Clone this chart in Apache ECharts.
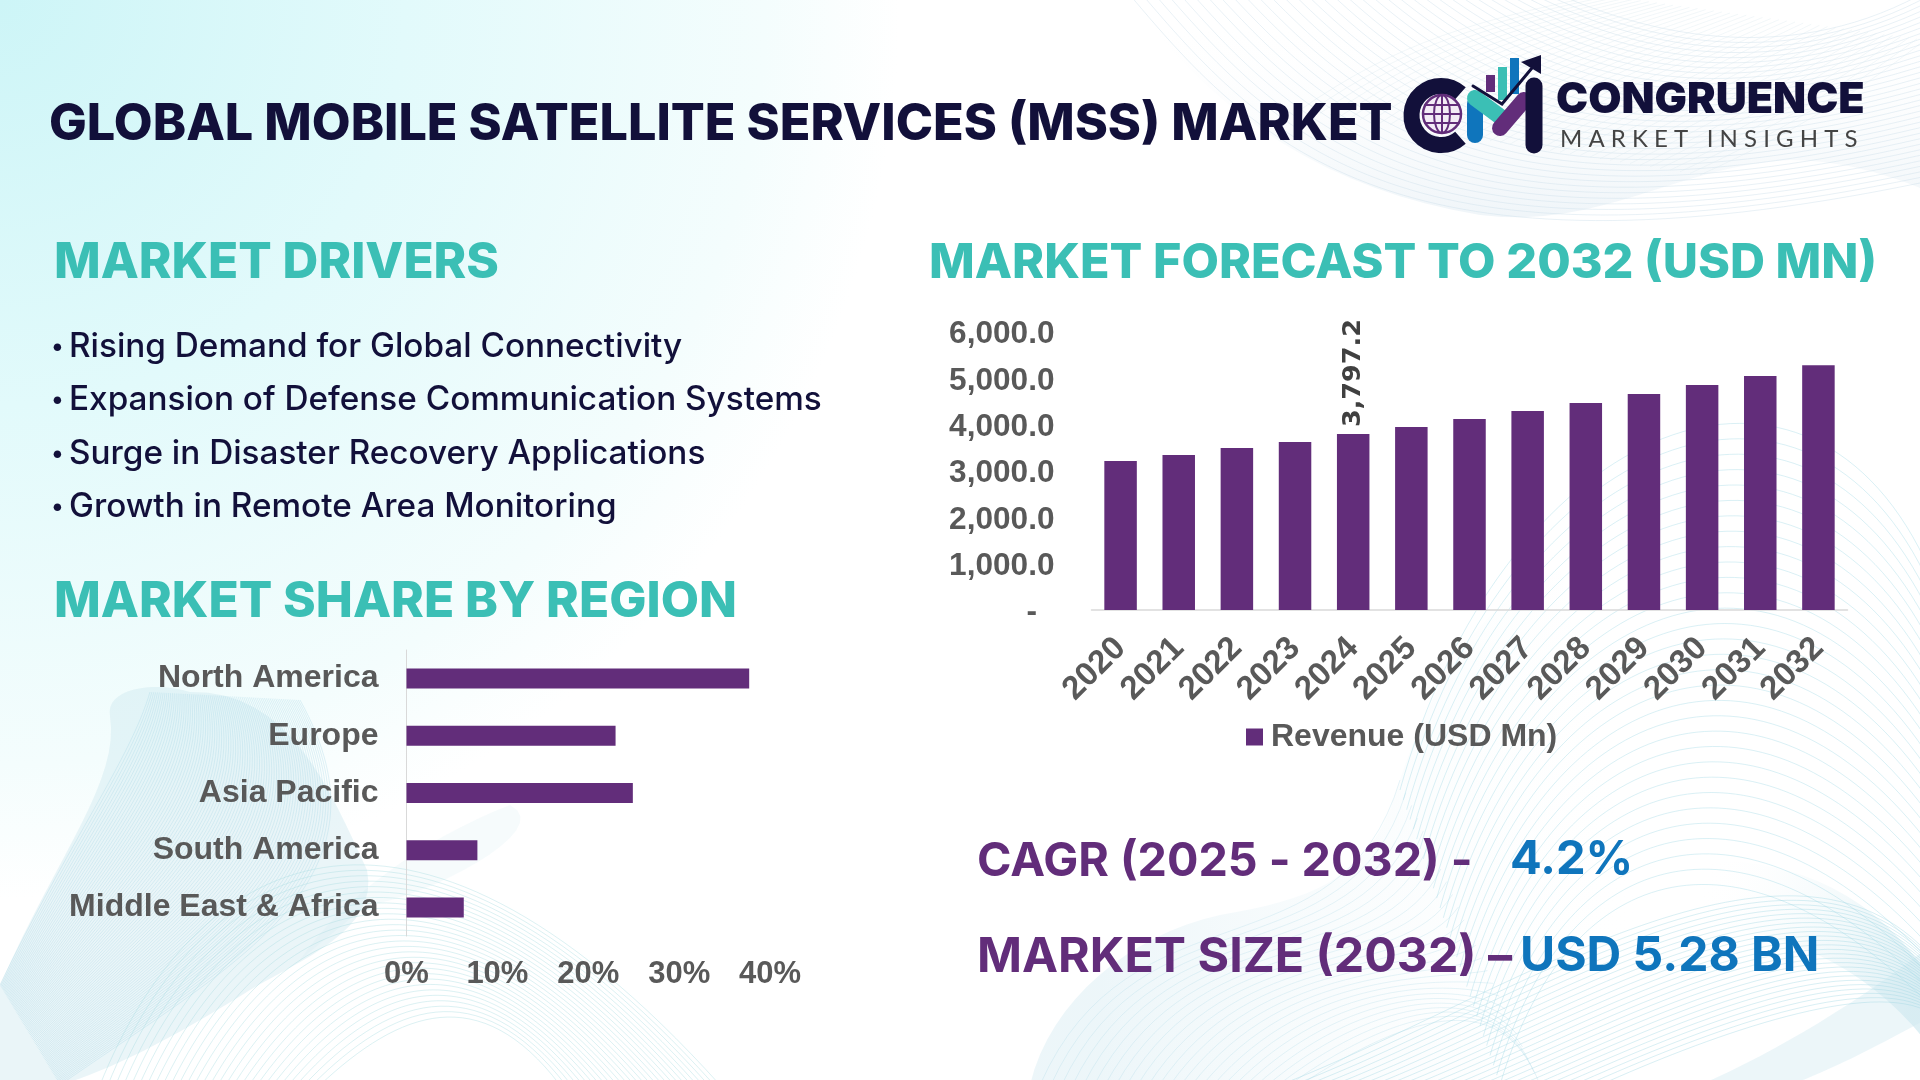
<!DOCTYPE html>
<html lang="en">
<head>
<meta charset="UTF-8">
<title>Global Mobile Satellite Services (MSS) Market</title>
<style>
  html, body { margin: 0; padding: 0; background: #fff; }
  #main { width: 1920px; height: 1080px; }
</style>
<script src="https://cdn.jsdelivr.net/npm/echarts@6/dist/echarts.min.js"></script>
</head>
<body>
<div id="main"></div>
<script>
// chart data
var regions = ['North America', 'Europe', 'Asia Pacific', 'South America', 'Middle East & Africa'];
var regionShare = [37.7, 23.0, 24.9, 7.8, 6.3];
var years = ['2020', '2021', '2022', '2023', '2024', '2025', '2026', '2027', '2028', '2029', '2030', '2031', '2032'];
var revenue = [3216, 3345, 3496, 3626, 3797.2, 3950, 4122, 4295, 4468, 4662, 4856, 5050, 5280];
var revenueTicks = ['-  ', '1,000.0', '2,000.0', '3,000.0', '4,000.0', '5,000.0', '6,000.0'];
var labelledYear = '2024';
var drivers = [
  'Rising Demand for Global Connectivity',
  'Expansion of Defense Communication Systems',
  'Surge in Disaster Recovery Applications',
  'Growth in Remote Area Monitoring'
];

var PURPLE = '#622d7a', TEAL = '#3bbfb5', NAVY = '#12103a', BLUE = '#0f75bc', GREY = '#595959';
var HEAD = 'Inter, "Open Sans", sans-serif';
var CHART = '"Liberation Sans", Arial, sans-serif';

var art = [];

function text(str, x, y, size, color, weight, family, z) {
  art.push({
    type: 'text', z: z || 5, silent: true,
    style: { text: str, x: x, y: y, fill: color, fontSize: size, fontWeight: weight, fontFamily: family || HEAD, verticalAlign: 'middle' }
  });
}

// background wash
art.push({
  type: 'rect', z: -20, silent: true,
  shape: { x: 0, y: 0, width: 1920, height: 1080 },
  style: {
    fill: {
      type: 'radial', x: 0, y: 0, r: 900, global: true,
      colorStops: [
        { offset: 0, color: '#cdf5f7' }, { offset: 0.45, color: '#e2fafb' },
        { offset: 0.85, color: '#f4fdfd' }, { offset: 1, color: '#ffffff' }
      ]
    }
  }
});

// soft filled ribbons under the line work: start point, then [c1x,c1y,c2x,c2y,x,y] curves or [x,y] lines
function ribbon(start, segs, fill, opacity) {
  var pts = [start], last = start;
  segs.forEach(function (s) {
    if (s.length === 2) {
      pts.push(s);
    } else {
      for (var k = 1; k <= 16; k++) {
        var t = k / 16, u = 1 - t;
        pts.push([
          u * u * u * last[0] + 3 * u * u * t * s[0] + 3 * u * t * t * s[2] + t * t * t * s[4],
          u * u * u * last[1] + 3 * u * u * t * s[1] + 3 * u * t * t * s[3] + t * t * t * s[5]
        ]);
      }
    }
    last = pts[pts.length - 1];
  });
  art.push({ type: 'polygon', z: -15, silent: true, shape: { points: pts }, style: { fill: fill, opacity: opacity } });
}
function fade(x, y, x2, y2, color) {
  return {
    type: 'linear', x: x, y: y, x2: x2, y2: y2, global: true,
    colorStops: [{ offset: 0, color: color }, { offset: 1, color: 'rgba(255,255,255,0)' }]
  };
}
ribbon([0, 985], [[60, 850, 120, 780, 110, 716], [105, 690, 150, 680, 190, 692], [290, 690, 330, 790, 367, 870], [380, 930, 300, 960, 250, 990], [170, 1040, 110, 1070, 60, 1085], [0, 1085]], '#c8e5ec', 0.38);
ribbon([300, 960], [[340, 900, 420, 840, 510, 805], [560, 830, 420, 900, 367, 905]], '#c8e8ec', 0.16);
ribbon([1030, 1085], [[1050, 1000, 1130, 935, 1220, 915], [1310, 900, 1360, 880, 1390, 810], [1430, 680, 1480, 600, 1560, 570], [1680, 1085]], fade(1100, 900, 1650, 900, '#d6ebf2'), 0.45);
ribbon([1700, 860], [[1780, 860, 1860, 880, 1925, 970], [1925, 1040], [1860, 960, 1780, 930, 1680, 920]], fade(1925, 960, 1700, 880, '#c3e3ec'), 0.55);
ribbon([1700, 1085], [[1780, 1050, 1860, 1000, 1925, 950], [1925, 1020], [1870, 1050, 1830, 1070, 1790, 1085]], '#cfe8ef', 0.4);
ribbon([1130, 0], [[1220, 120, 1330, 190, 1480, 215], [1600, 230, 1680, 165, 1790, 160], [1840, 160, 1890, 175, 1925, 190], [1925, 0]], fade(1500, 215, 1500, 20, '#e6eff5'), 0.6);

// mesh of curves between two bezier edges [x1,y1,cx1,cy1,cx2,cy2,x2,y2]
function mesh(a, b, n, color, opacity, width) {
  for (var i = 0; i <= n; i++) {
    var t = i / n, p = a.map(function (v, k) { return v + (b[k] - v) * t; });
    art.push({
      type: 'bezierCurve', z: -10, silent: true,
      shape: { x1: p[0], y1: p[1], cpx1: p[2], cpy1: p[3], cpx2: p[4], cpy2: p[5], x2: p[6], y2: p[7] },
      style: { fill: 'none', stroke: color, lineWidth: width || 1, opacity: opacity }
    });
  }
}

// top right
mesh([1130, -5, 1260, 150, 1400, 290, 1920, 183], [1560, -5, 1640, 30, 1780, 70, 1920, -5], 34, '#cfe0ea', 0.45);
mesh([1300, 110, 1400, 40, 1480, 20, 1600, -5], [1700, 175, 1800, 130, 1860, 90, 1925, 40], 40, '#d9e7ef', 0.35);
// bottom left hook
mesh([0, 985, 70, 840, 130, 760, 150, 692], [60, 1085, 240, 960, 400, 880, 300, 700], 80, '#a9d8e4', 0.35);
// bottom left domes
mesh([100, 1085, 190, 860, 400, 730, 720, 1085], [320, 1085, 400, 1010, 480, 980, 560, 1085], 28, '#a8dce2', 0.4);
// bottom right domes
mesh([1040, 1085, 1130, 880, 1340, 980, 1400, 780], [1300, 1085, 1400, 1020, 1500, 980, 1540, 1085], 24, '#a8d8e6', 0.28);
mesh([1400, 790, 1500, 430, 1800, 300, 1925, 560], [1500, 1085, 1560, 880, 1720, 800, 1925, 1000], 30, '#a8dce6', 0.42);
mesh([1280, 1085, 1500, 1000, 1780, 800, 1925, 950], [1600, 1085, 1700, 1040, 1860, 980, 1925, 1010], 24, '#9fd6e4', 0.4);

// headings and copy
text('GLOBAL MOBILE SATELLITE SERVICES (MSS) MARKET', 49, 125, 50.3, NAVY, 800);
text('MARKET DRIVERS', 54, 263, 49.5, TEAL, 800);
text('MARKET FORECAST TO 2032 (USD MN)', 929, 263, 48.5, TEAL, 800);
text('MARKET SHARE BY REGION', 54, 602, 49.6, TEAL, 800);
drivers.forEach(function (line, i) {
  var y = [347, 400, 454, 507][i];
  text('•', 51, y, 24, NAVY, 500);
  text(line, 69, y, 33.3, NAVY, 500);
});
text('CAGR (2025 - 2032) -', 977, 862, 46.7, PURPLE, 700);
text('4.2%', 1510, 860, 47, BLUE, 700);
text('MARKET SIZE (2032) –', 977, 957, 48.3, PURPLE, 700);
text('USD 5.28 BN', 1520, 957, 48, BLUE, 700);

// logo
function stroke(points, color, width) {
  art.push({
    type: 'polyline', z: 4, silent: true, shape: { points: points },
    style: { stroke: color, lineWidth: width, lineCap: 'round', lineJoin: 'miter', fill: 'none' }
  });
}
function bar(x, y, w, h, color) {
  art.push({ type: 'rect', z: 4, silent: true, shape: { x: x, y: y, width: w, height: h }, style: { fill: color } });
}
art.push({
  type: 'arc', z: 4, silent: true,
  shape: { cx: 1441, cy: 115.5, r: 29.5, startAngle: 0.85, endAngle: -0.85, clockwise: true },
  style: { stroke: NAVY, lineWidth: 16, fill: 'none' }
});
art.push({ type: 'circle', z: 4, silent: true, shape: { cx: 1442, cy: 114, r: 19 }, style: { fill: '#f3ecf6', stroke: PURPLE, lineWidth: 2.5 } });
art.push({ type: 'ellipse', z: 4, silent: true, shape: { cx: 1442, cy: 114, rx: 8, ry: 19 }, style: { fill: 'none', stroke: PURPLE, lineWidth: 2 } });
stroke([[1442, 95], [1442, 133]], PURPLE, 2);
stroke([[1425, 105], [1459, 105]], PURPLE, 2);
stroke([[1423, 114], [1461, 114]], PURPLE, 2);
stroke([[1425, 123], [1459, 123]], PURPLE, 2);
bar(1486, 75, 9, 17, PURPLE);
bar(1498, 67, 9, 33, TEAL);
bar(1510, 58, 9, 36, BLUE);
stroke([[1475, 104], [1475, 135]], BLUE, 16);
stroke([[1475, 98], [1502, 118]], TEAL, 16);
stroke([[1500, 128], [1524, 100]], PURPLE, 16);
stroke([[1534, 86], [1534, 145]], NAVY, 17);
stroke([[1473, 86], [1502, 104], [1532, 68]], NAVY, 3);
art.push({ type: 'polygon', z: 4, silent: true, shape: { points: [[1541, 55], [1521, 62], [1541, 74]] }, style: { fill: NAVY } });
text('CONGRUENCE', 1556, 100, 43, NAVY, 900);
text('M A R K E T   I N S I G H T S', 1560, 139, 24, '#444444', 400, 'Lato, sans-serif');

var chart = echarts.init(document.getElementById('main'));
chart.setOption({
  animation: false,
  graphic: { elements: art },
  legend: {
    data: ['Revenue (USD Mn)'],
    left: 1241, top: 716,
    itemWidth: 17, itemHeight: 17, itemGap: 8, icon: 'rect',
    textStyle: { color: GREY, fontFamily: CHART, fontWeight: 'bold', fontSize: 32, padding: [0, 0, 0, 3] }
  },
  grid: [
    { left: 406.5, top: 650, width: 363.6, height: 286 },
    { left: 1091.5, top: 332, width: 756, height: 278 }
  ],
  xAxis: [
    {
      gridIndex: 0, type: 'value', min: 0, max: 40, interval: 10,
      axisLine: { show: false }, axisTick: { show: false }, splitLine: { show: false },
      axisLabel: { formatter: '{value}%', color: GREY, fontFamily: CHART, fontWeight: 'bold', fontSize: 31, margin: 23 }
    },
    {
      gridIndex: 1, type: 'category', data: years,
      axisLine: { lineStyle: { color: '#d9d9d9', width: 1.5 } }, axisTick: { show: false },
      axisLabel: { interval: 0, rotate: 45, color: GREY, fontFamily: CHART, fontWeight: 'bold', fontSize: 33, margin: 33 }
    }
  ],
  yAxis: [
    {
      gridIndex: 0, type: 'category', data: regions, inverse: true,
      axisLine: { lineStyle: { color: '#d9d9d9', width: 1 } }, axisTick: { show: false },
      axisLabel: { color: GREY, fontFamily: CHART, fontWeight: 'bold', fontSize: 32, margin: 28 }
    },
    {
      gridIndex: 1, type: 'value', min: 0, max: 6000, interval: 1000,
      axisLine: { show: false }, axisTick: { show: false }, splitLine: { show: false },
      axisLabel: {
        margin: 37,
        formatter: function (v) { return '{t|' + revenueTicks[v / 1000] + '}'; },
        rich: { t: { color: GREY, fontFamily: CHART, fontWeight: 'bold', fontSize: 31.6, padding: [5, 0, 0, 0] } }
      }
    }
  ],
  series: [
    {
      name: 'Market share', type: 'bar', xAxisIndex: 0, yAxisIndex: 0,
      data: regionShare, barWidth: 20, itemStyle: { color: PURPLE }
    },
    {
      name: 'Revenue (USD Mn)', type: 'bar', xAxisIndex: 1, yAxisIndex: 1, barWidth: 32.5,
      itemStyle: { color: PURPLE },
      label: {
        show: false, position: 'top', rotate: 90, distance: 7, align: 'left', verticalAlign: 'middle',
        color: '#404040', fontFamily: '"DejaVu Sans", sans-serif', fontWeight: 'bold', fontSize: 25.5,
        formatter: function (p) { return p.value.toLocaleString('en-US', { minimumFractionDigits: 1 }); }
      },
      data: revenue.map(function (v, i) {
        return years[i] === labelledYear ? { value: v, label: { show: true } } : v;
      })
    }
  ]
});
</script>
</body>
</html>
